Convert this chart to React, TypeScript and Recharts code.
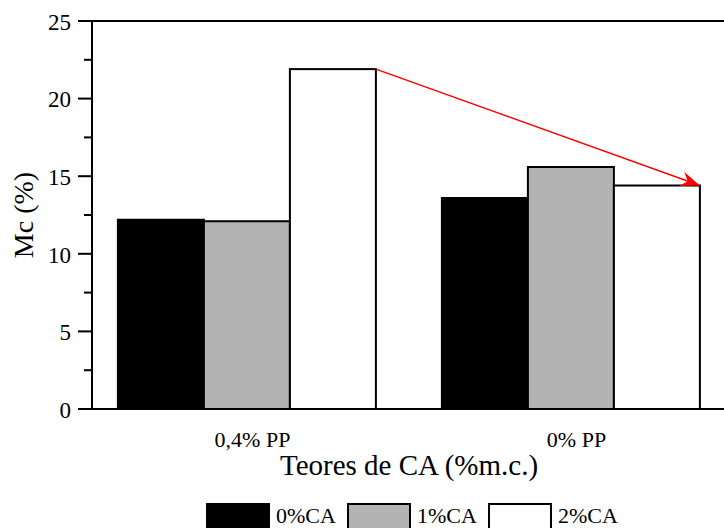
import React from 'react';
import { BarChart, Bar, XAxis, YAxis, ReferenceLine } from 'recharts';

const categories = ['0,4% PP', '0% PP'];
const ca0Values = [12.2, 13.6];
const ca1Values = [12.1, 15.6];
const ca2Values = [21.9, 14.4];
const seriesNames = ['0%CA', '1%CA', '2%CA'];
const seriesColors = ['#000000', '#b3b3b3', '#ffffff'];
const yTicks = [0, 2.5, 5, 7.5, 10, 12.5, 15, 17.5, 20, 22.5, 25];
const xTitle = 'Teores de CA (%m.c.)';
const yTitle = 'Mc (%)';

const FONT = '"Liberation Serif", "Times New Roman", serif';

const data = categories.map((c, i) => ({
  cat: c,
  ca0: ca0Values[i],
  ca1: ca1Values[i],
  ca2: ca2Values[i],
}));

let arrowStart: { x: number; y: number } | null = null;

const ArrowBar = (props: any) => {
  const { x, y, width, height, index, fill } = props;
  const rect = (
    <rect x={x} y={y} width={width} height={height} fill={fill} stroke="#000" strokeWidth={2} />
  );
  const corner = { x: x + width, y };
  if (index === 0) {
    arrowStart = corner;
    return rect;
  }
  if (index === 1 && arrowStart) {
    return (
      <g>
        <defs>
          <marker
            id="redArrow"
            viewBox="0 0 18 14"
            refX={18}
            refY={7}
            markerWidth={20}
            markerHeight={15}
            markerUnits="userSpaceOnUse"
            orient="auto"
          >
            <path d="M0,0 L18,7 L0,14 L6,7 Z" fill="#ff0000" />
          </marker>
        </defs>
        {rect}
        <line
          x1={arrowStart.x}
          y1={arrowStart.y}
          x2={corner.x}
          y2={corner.y}
          stroke="#ff0000"
          strokeWidth={1.5}
          markerEnd="url(#redArrow)"
        />
      </g>
    );
  }
  return rect;
};

const YTick = (props: any) => {
  const { x, y, payload } = props;
  const v = payload.value;
  const major = v % 5 === 0;
  return (
    <g>
      <line x1={x - (major ? 14 : 8)} x2={x} y1={y} y2={y} stroke="#000" strokeWidth={2} />
      {major && (
        <text x={x - 21} y={y} dy="0.38em" textAnchor="end" fontFamily={FONT} fontSize={23} fill="#000">
          {v}
        </text>
      )}
    </g>
  );
};

const XTick = (props: any) => {
  const { x, y, payload } = props;
  return (
    <text x={x + 5} y={y + 38} textAnchor="middle" fontFamily={FONT} fontSize={22} fill="#000">
      {payload.value}
    </text>
  );
};

const legendX = [207, 348, 489];

export default function App() {
  arrowStart = null;
  return (
    <div
      style={{
        position: 'fixed',
        left: 0,
        top: 0,
        width: 724,
        height: 528,
        overflow: 'hidden',
        background: '#fff',
      }}
    >
      <BarChart
        width={740}
        height={528}
        data={data}
        margin={{ top: 21, right: 13, left: 0, bottom: 0 }}
        barCategoryGap="10%"
        barGap={0}
      >
        <XAxis
          dataKey="cat"
          axisLine={{ stroke: '#000', strokeWidth: 2 }}
          tickLine={false}
          tickSize={0}
          tickMargin={0}
          height={119}
          padding={{ left: -6.5, right: -6.5 }}
          tick={<XTick />}
          interval={0}
        />
        <YAxis
          width={92}
          domain={[0, 25]}
          ticks={yTicks}
          interval={0}
          axisLine={{ stroke: '#000', strokeWidth: 2 }}
          tickLine={false}
          tickSize={0}
          tickMargin={0}
          tick={<YTick />}
        />
        <ReferenceLine y={25} stroke="#000" strokeWidth={2} ifOverflow="visible" />
        <Bar dataKey="ca0" name={seriesNames[0]} fill={seriesColors[0]} stroke="#000" strokeWidth={2} isAnimationActive={false} />
        <Bar dataKey="ca1" name={seriesNames[1]} fill={seriesColors[1]} stroke="#000" strokeWidth={2} isAnimationActive={false} />
        <Bar dataKey="ca2" name={seriesNames[2]} fill={seriesColors[2]} shape={ArrowBar} isAnimationActive={false} />
      </BarChart>
      <svg
        width={724}
        height={528}
        style={{ position: 'absolute', left: 0, top: 0, pointerEvents: 'none' }}
      >
        <text x={409} y={475} textAnchor="middle" fontFamily={FONT} fontSize={29} fill="#000">
          {xTitle}
        </text>
        <text
          x={33}
          y={215}
          transform="rotate(-90 33 215)"
          textAnchor="middle"
          fontFamily={FONT}
          fontSize={28}
          fill="#000"
        >
          {yTitle}
        </text>
        {seriesNames.map((n, i) => (
          <g key={n}>
            <rect x={legendX[i]} y={504} width={62} height={30} fill={seriesColors[i]} stroke="#000" strokeWidth={2} />
            <text x={legendX[i] + 69} y={523} fontFamily={FONT} fontSize={22} fill="#000">
              {n}
            </text>
          </g>
        ))}
      </svg>
    </div>
  );
}
